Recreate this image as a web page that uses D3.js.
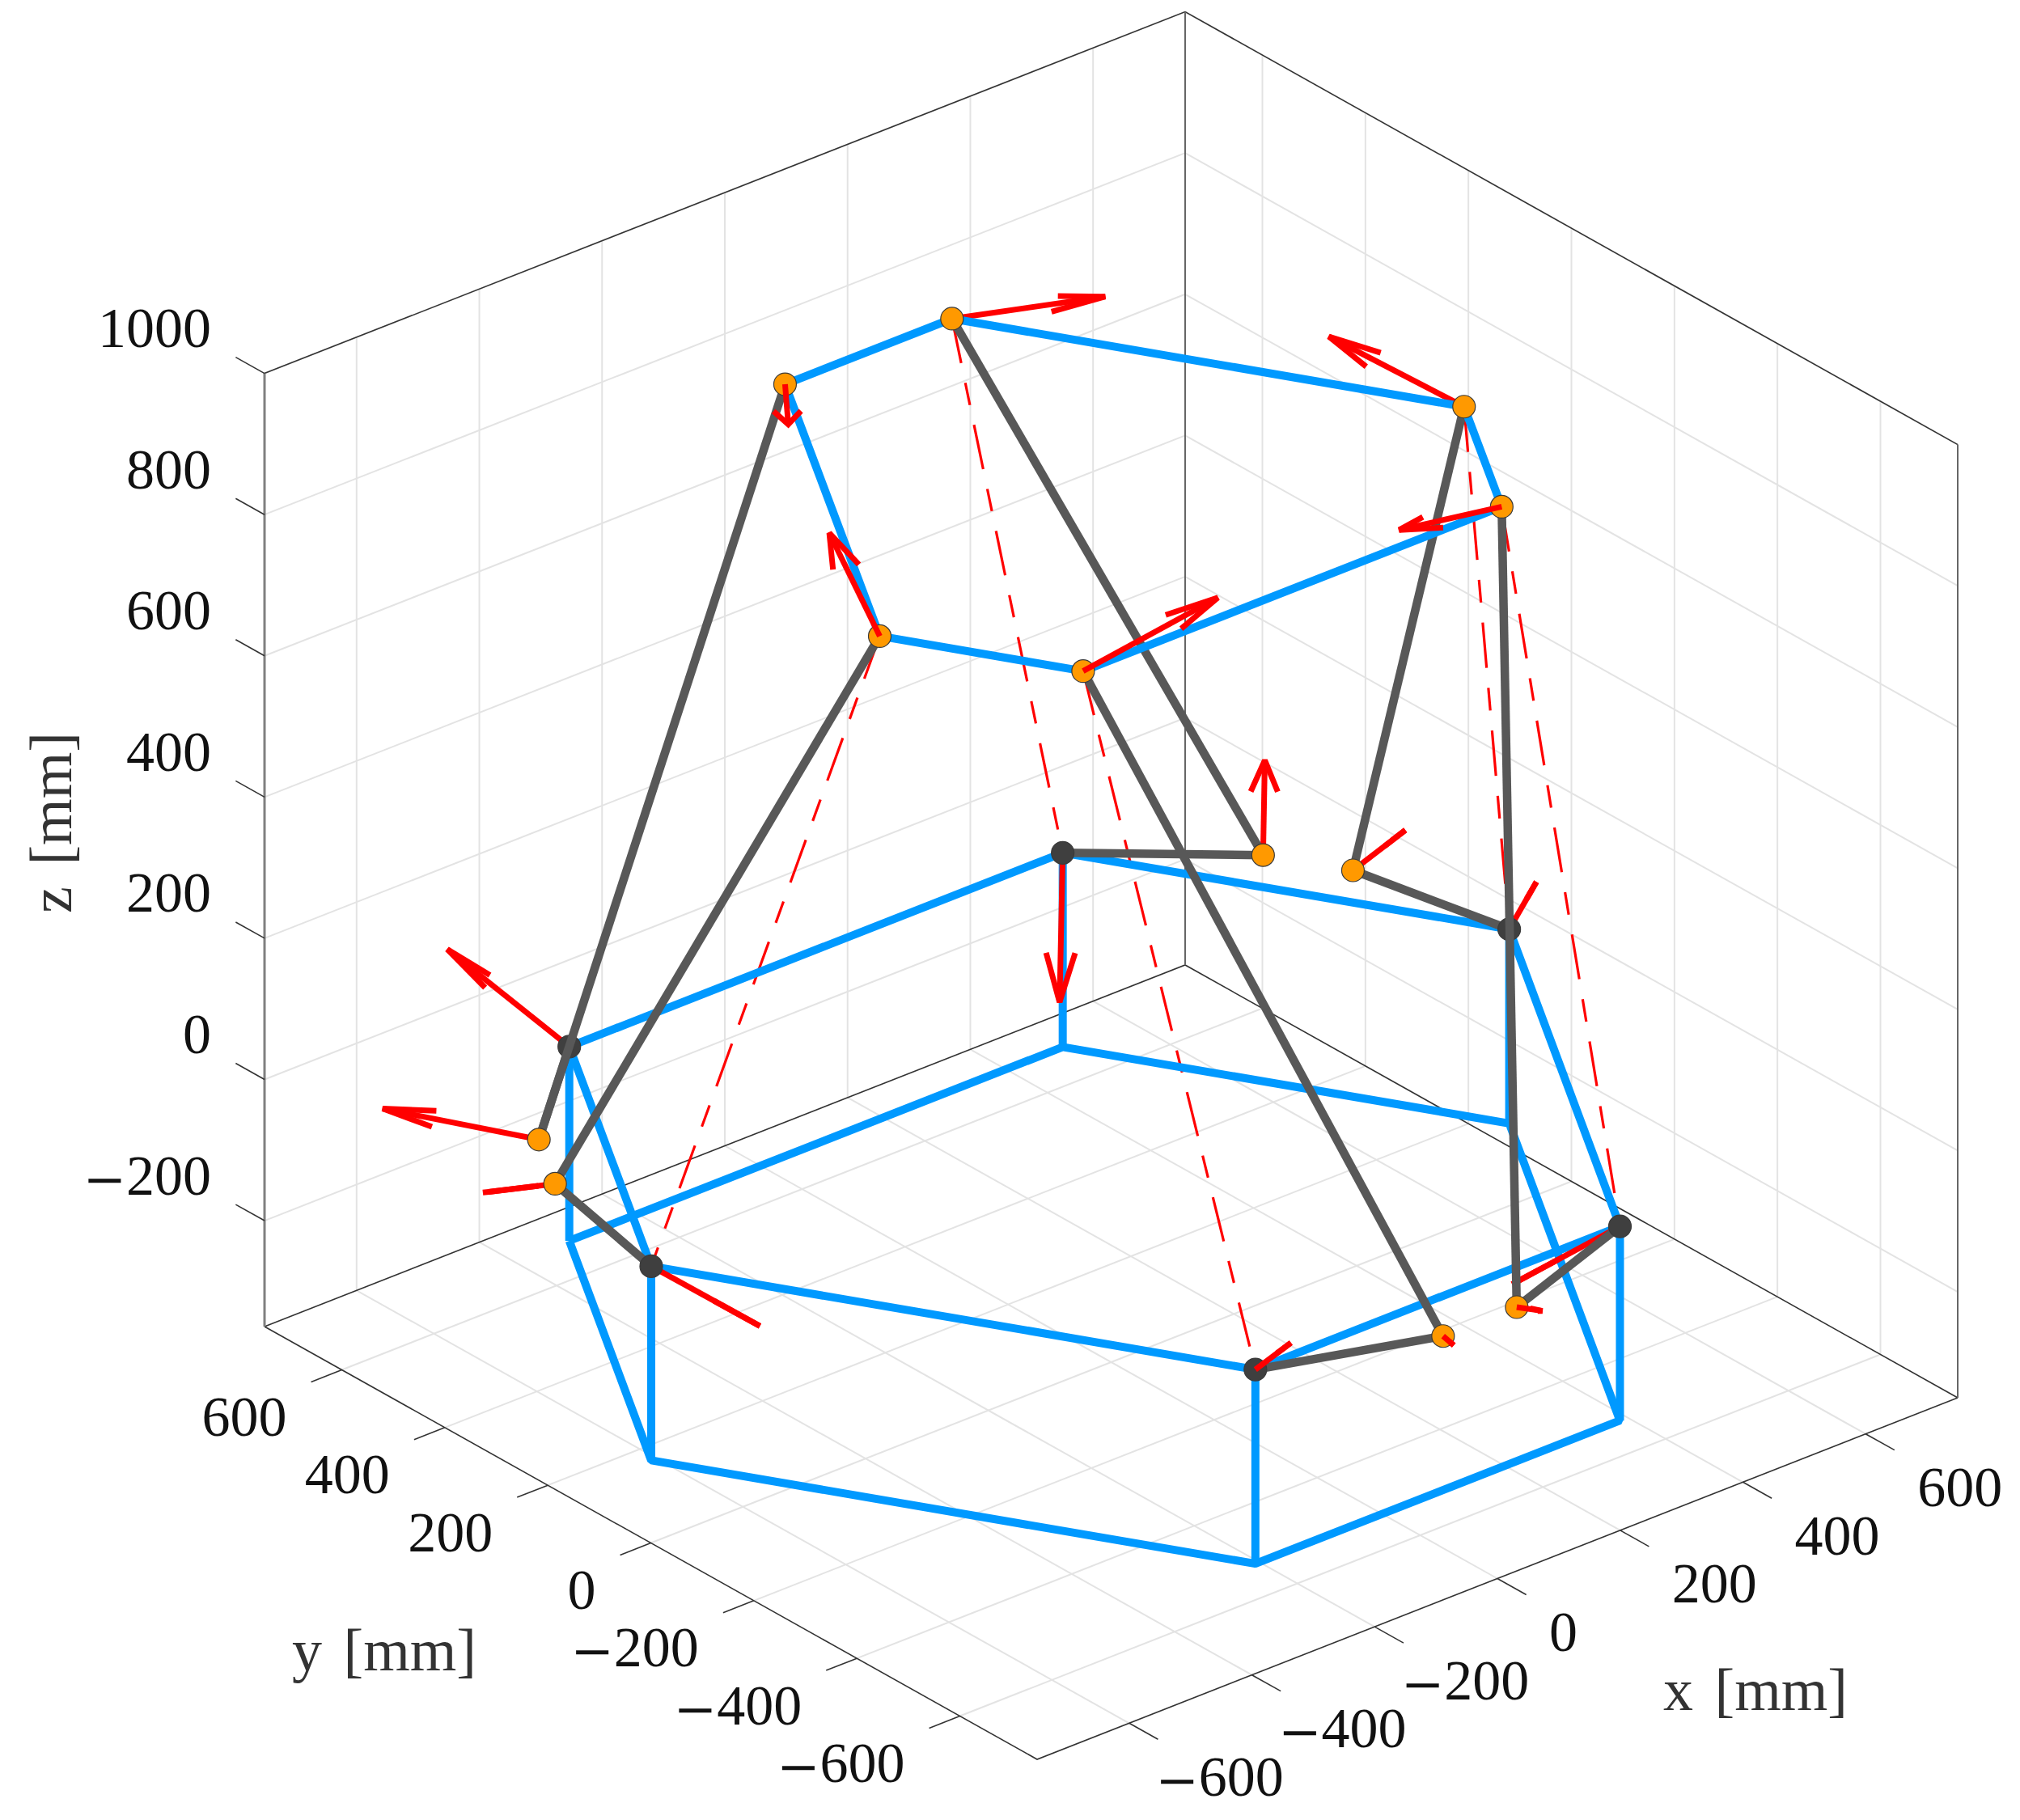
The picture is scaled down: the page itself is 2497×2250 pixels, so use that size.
<!DOCTYPE html>
<html>
<head>
<meta charset="utf-8">
<script src="https://cdn.jsdelivr.net/npm/d3@7"></script>
<style>
  html, body { margin: 0; padding: 0; background: #fff; }
  text { font-family: "Liberation Serif", serif; }
</style>
</head>
<body>
<svg id="chart" width="2497" height="2250"></svg>
<script>
// tick values
const xTicks = [-600, -400, -200, 0, 200, 400, 600];
const yTicks = [-600, -400, -200, 0, 200, 400, 600];
const zTicks = [-200, 0, 200, 400, 600, 800, 1000];
const xLimits = [-750, 750];
const yLimits = [-750, 750];
const zLimits = [-350, 1000];

// fixed base hexagon, upper face at z = 0, lower face at baseLowZ
const baseX = [-402, -699, -297, 297, 699, 402];
const baseY = [573, 60, -634, -634, 60, 573];
const baseZ = [0, 0, 0, 0, 0, 0];
const baseLowZ = [-275, -275, -275, -275, -275, -275];

// moving platform hexagon, same order as the legs
const topX = [-136, -476, -341, 341, 476, 136];
const topY = [471, -118, -352, -352, -118, 471];
const topZ = [889, 889, 889, 889, 889, 889];

// middle joints of the six legs
const midX = [-590, -650, -60, 60, 650, 590];
const midY = [408, 305, -716, -716, 305, 408];
const midZ = [0, 0, 0, 0, 0, 0];

// red vectors at each joint
const baseU = [-99, 178, 16, -27, 20, -110];
const baseV = [119, 1, -50, 177, -29, -125];
const baseW = [123, -146, 53, -145, 72, -123];
const midU = [-133, 141, 15, 52, 25, 101];
const midV = [145, 297, -3, 12, -72, 117];
const midW = [30, -181, -17, -28, 78, 52];
const topU = [-98, 47, 186, -173, -76, 123];
const topV = [-123, 154, -40, -7, 172, -151];
const topW = [27, 67, 57, 29, 55, 51];

// perimeter order of the platform (leg indexes)
const topRing = [0, 5, 4, 3, 2, 1, 0];

const svg = d3.select('#chart');

// oblique projection, one scale per screen component
const originX = 1282, originY = 2175;
const xToH = d3.scaleLinear().domain(xLimits).range([0, 1138]);
const xToV = d3.scaleLinear().domain(xLimits).range([0, -447]);
const yToH = d3.scaleLinear().domain(yLimits).range([0, -955]);
const yToV = d3.scaleLinear().domain(yLimits).range([0, -535]);
const zToV = d3.scaleLinear().domain(zLimits).range([0, -1178.4]);
const project = ([x, y, z]) => [originX + xToH(x) + yToH(y), originY + xToV(x) + yToV(y) + zToV(z)];

const line3 = d3.line().x(p => project(p)[0]).y(p => project(p)[1]);

function drawLines(parent, lines, style) {
  parent.append('g').selectAll('path').data(lines).join('path')
    .attr('d', line3)
    .attr('fill', 'none')
    .attr('stroke', style.color)
    .attr('stroke-width', style.width)
    .attr('stroke-dasharray', style.dash || null)
    .attr('stroke-linejoin', style.join || 'miter')
    .attr('stroke-miterlimit', 2);
}

const [x0, x1] = xLimits, [y0, y1] = yLimits, [z0, z1] = zLimits;

// grid on the floor and the two back walls
const gridLines = [];
xTicks.forEach(x => {
  gridLines.push([[x, y0, z0], [x, y1, z0]]);
  gridLines.push([[x, y1, z0], [x, y1, z1]]);
});
yTicks.forEach(y => {
  gridLines.push([[x0, y, z0], [x1, y, z0]]);
  gridLines.push([[x1, y, z0], [x1, y, z1]]);
});
zTicks.forEach(z => {
  gridLines.push([[x0, y1, z], [x1, y1, z]]);
  gridLines.push([[x1, y1, z], [x1, y0, z]]);
});
drawLines(svg, gridLines, { color: '#e3e3e3', width: 2 });

// box
drawLines(svg, [
  [[x0, y1, z1], [x1, y1, z1], [x1, y0, z1]],
  [[x0, y1, z0], [x1, y1, z0], [x1, y0, z0]],
  [[x0, y1, z0], [x0, y0, z0], [x1, y0, z0]]
], { color: '#333', width: 1.6 });
drawLines(svg, [[[x1, y1, z0], [x1, y1, z1]], [[x1, y0, z0], [x1, y0, z1]]], { color: '#666', width: 2 });
drawLines(svg, [[[x0, y1, z0], [x0, y1, z1]]], { color: '#808080', width: 3 });

// ticks
const tickLines = [
  ...xTicks.map(x => [[x, y0, z0], [x, y0 - 56, z0]]),
  ...yTicks.map(y => [[x0, y, z0], [x0 - 50, y, z0]]),
  ...zTicks.map(z => [[x0, y1, z], [x0, y1 + 56, z]])
];
drawLines(svg, tickLines, { color: '#333', width: 1.6 });

const tickFont = 70;
const tickLabels = svg.append('g').attr('font-size', tickFont).attr('fill', '#111');

// DejaVu has a minus about as wide as the one in the picture
function tickText(v, px, py, anchor) {
  const t = tickLabels.append('text')
    .attr('x', px).attr('y', py + 23.5).attr('text-anchor', anchor);
  if (v < 0) {
    t.append('tspan').attr('font-family', 'DejaVu Serif').attr('font-size', 64).attr('dy', 3).text('\u2212');
    t.append('tspan').attr('dy', -3).text(Math.abs(v));
  } else {
    t.text(v);
  }
}
xTicks.forEach(v => {
  const [px, py] = project([v, y0, z0]);
  tickText(v, px + (v < 0 ? 191 : 64), py + 66, v < 0 ? 'end' : 'start');
});
yTicks.forEach(v => {
  const [px, py] = project([x0, v, z0]);
  tickText(v, px - 68, py + 58, 'end');
});
zTicks.forEach(v => {
  const [px, py] = project([x0, y1, v]);
  tickText(v, px - 66, py - 56, 'end');
});

const axisLabels = svg.append('g').attr('font-size', 74).attr('fill', '#333')
  .attr('text-anchor', 'middle').attr('word-spacing', 8);
axisLabels.append('text').attr('x', 2170).attr('y', 2114).text('x [mm]');
axisLabels.append('text').attr('x', 475).attr('y', 2065).text('y [mm]');
axisLabels.append('text').attr('transform', 'translate(88,1017) rotate(-90)').text('z [mm]');

// points by leg
const legs = d3.range(6);
const basePt = i => [baseX[i], baseY[i], baseZ[i]];
const lowPt = i => [baseX[i], baseY[i], baseLowZ[i]];
const midPt = i => [midX[i], midY[i], midZ[i]];
const topPt = i => [topX[i], topY[i], topZ[i]];

// quiver style arrow: shaft plus two barbs, head fractions as in quiver3
const alpha = 0.33, beta = 0.33;
function arrowLines([x, y, z], u, v, w) {
  const tip = [x + u, y + v, z + w];
  const back = [tip[0] - alpha * u, tip[1] - alpha * v, tip[2] - alpha * w];
  const ox = alpha * beta * v, oy = -alpha * beta * u;
  return [
    [[x, y, z], tip],
    [[back[0] + ox, back[1] + oy, back[2]], tip, [back[0] - ox, back[1] - oy, back[2]]]
  ];
}
const baseArrow = i => arrowLines(basePt(i), baseU[i], baseV[i], baseW[i]);
const midArrow = i => arrowLines(midPt(i), midU[i], midV[i], midW[i]);
const topArrow = i => arrowLines(topPt(i), topU[i], topV[i], topW[i]);
const arrowStyle = { color: '#ff0000', width: 7 };

function drawMarkers(points, fill) {
  svg.append('g').selectAll('circle').data(points).join('circle')
    .attr('cx', p => project(p)[0]).attr('cy', p => project(p)[1]).attr('r', 14)
    .attr('fill', fill).attr('stroke', '#3a3a3a').attr('stroke-width', 1.2);
}

// dashed leg axes
drawLines(svg, legs.map(i => [topPt(i), basePt(i)]), { color: '#ff0000', width: 3.2, dash: '56 25 28 25' });

// fixed base
const blue = { color: '#0099ff', width: 10, join: 'bevel' };
const ring = pt => [...legs.map(pt), pt(0)];
drawLines(svg, [ring(lowPt), ring(basePt), ...legs.map(i => [lowPt(i), basePt(i)])], blue);

// vectors hidden by the joints
const arrowsUnder = [
  ...[0, 1, 3, 4, 5].flatMap(baseArrow),
  ...[0, 1, 4, 5].flatMap(midArrow),
  ...[4, 5].flatMap(topArrow)
];
drawLines(svg, arrowsUnder, arrowStyle);

const gray = { color: '#585858', width: 10.5 };
drawLines(svg, legs.map(i => [basePt(i), midPt(i)]), gray);
drawMarkers(legs.map(basePt), '#3f3f3f');
drawLines(svg, legs.map(i => [midPt(i), topPt(i)]), gray);
drawMarkers(legs.map(midPt), '#ff9900');

// moving platform
drawLines(svg, [topRing.map(topPt)], blue);
drawMarkers(legs.map(topPt), '#ff9900');

// vectors in front of the joints
const arrowsOver = [
  ...[2].flatMap(baseArrow),
  ...[2, 3].flatMap(midArrow),
  ...[0, 1, 2, 3].flatMap(topArrow)
];
drawLines(svg, arrowsOver, arrowStyle);
</script>
</body>
</html>
